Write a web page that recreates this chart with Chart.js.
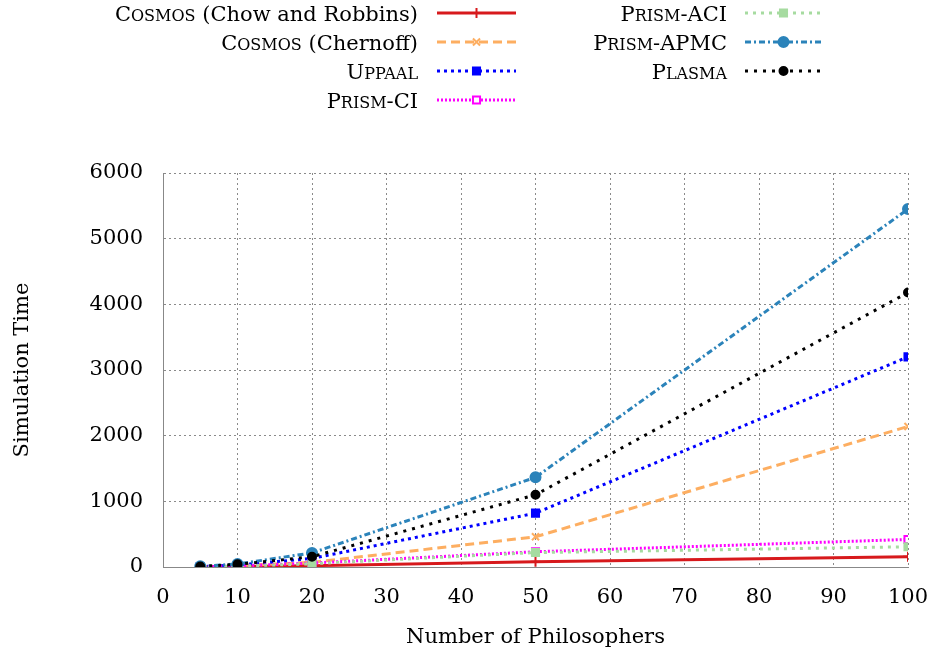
<!DOCTYPE html>
<html>
<head>
<meta charset="utf-8">
<script src="https://cdn.jsdelivr.net/npm/chart.js@4/dist/chart.umd.min.js"></script>
<style>
  html, body { margin: 0; padding: 0; background: #fff; }
  #wrap { width: 939px; height: 658px; position: relative; }
</style>
</head>
<body>
<div id="wrap"><canvas id="simChart"></canvas></div>
<script>
// Nombre de philosophes (axe x)
const philosophes = [5, 10, 20, 50, 100];

// Temps de simulation par outil
const chowRobbins = [2, 8, 20, 80, 155];
const chernoff = [5, 20, 70, 460, 2140];
const uppaal = [5, 30, 130, 820, 3200];
const prismCI = [3, 15, 60, 232, 420];
const prismACI = [3, 12, 50, 220, 308];
const prismAPMC = [10, 45, 215, 1365, 5450];
const plasma = [8, 40, 156, 1100, 4180];

// noms : partie en petites capitales + reste
const nomsSC = ['Cosmos', 'Cosmos', 'Uppaal', 'Prism', 'Prism', 'Prism', 'Plasma'];
const nomsReste = [' (Chow and Robbins)', ' (Chernoff)', '', '-CI', '-ACI', '-APMC', ''];

const yTicks = [0, 1000, 2000, 3000, 4000, 5000, 6000];
const xTicks = [0, 10, 20, 30, 40, 50, 60, 70, 80, 90, 100];

const serif = '"DejaVu Serif", "Liberation Serif", serif';
const taille = 21;

function serie(valeurs, cor, dash, estilo, raio, fundo) {
  return {
    data: philosophes.map((x, i) => ({ x: x, y: valeurs[i] })),
    borderColor: cor,
    backgroundColor: fundo || cor,
    borderWidth: 3,
    borderDash: dash,
    pointStyle: estilo,
    pointRadius: raio,
    pointBorderColor: cor,
    pointBackgroundColor: fundo || cor,
    pointBorderWidth: 2,
    tension: 0
  };
}

const datasets = [
  serie(chowRobbins, '#d7191c', [], 'cross', 5),
  serie(chernoff, '#fdae61', [9, 5], 'crossRot', 5),
  serie(uppaal, '#0000ff', [3, 4], 'rect', 5),
  serie(prismCI, '#ff00ff', [2, 2], 'rect', 5, '#ffffff'),
  serie(prismACI, '#a6dba0', [3, 5], 'rect', 5),
  serie(prismAPMC, '#2b83ba', [6, 3, 2, 3], 'circle', 5),
  serie(plasma, '#000000', [3, 6], 'circle', 4)
];
// comme gnuplot : les dernieres series par-dessus
datasets.forEach((d, i) => { d.label = nomsSC[i] + nomsReste[i]; d.order = datasets.length - i; });

// petites capitales faites main : initiale pleine, reste en majuscules reduites
function morceaux(i) {
  const sc = nomsSC[i];
  return [
    { t: sc[0], f: taille + 'px ' + serif },
    { t: sc.slice(1).toUpperCase(), f: Math.round(taille * 0.78) + 'px ' + serif },
    { t: nomsReste[i], f: taille + 'px ' + serif }
  ];
}

// legende en deux colonnes, dessinee a la main
const legendePlugin = {
  id: 'legendePlugin',
  afterDraw(chart) {
    const ctx = chart.ctx;
    const cols = [{ tx: 418, x0: 437, x1: 516 }, { tx: 727, x0: 745, x1: 822 }];
    const rows = [13, 42, 71, 100];
    chart.data.datasets.forEach((d, i) => {
      const col = i < 4 ? cols[0] : cols[1];
      const y = rows[i < 4 ? i : i - 4];
      ctx.save();
      ctx.fillStyle = '#000';
      ctx.textBaseline = 'alphabetic';
      ctx.textAlign = 'left';
      const parts = morceaux(i);
      let total = 0;
      parts.forEach(p => { ctx.font = p.f; p.w = ctx.measureText(p.t).width; total += p.w; });
      let x = col.tx - total;
      parts.forEach(p => { ctx.font = p.f; ctx.fillText(p.t, x, y + 8); x += p.w; });
      // trait
      ctx.strokeStyle = d.borderColor;
      ctx.lineWidth = d.borderWidth;
      ctx.setLineDash(d.borderDash);
      ctx.beginPath();
      ctx.moveTo(col.x0, y);
      ctx.lineTo(col.x1, y);
      ctx.stroke();
      ctx.setLineDash([]);
      ctx.fillStyle = d.pointBackgroundColor;
      ctx.strokeStyle = d.pointBorderColor;
      ctx.lineWidth = d.pointBorderWidth;
      Chart.helpers.drawPoint(ctx, {
        pointStyle: d.pointStyle, radius: d.pointRadius, borderWidth: d.pointBorderWidth,
        rotation: 0
      }, (col.x0 + col.x1) / 2, y);
      ctx.restore();
    });
  }
};

const ctxSim = document.getElementById('simChart').getContext('2d');
new Chart(ctxSim, {
  type: 'line',
  data: { datasets: datasets },
  plugins: [legendePlugin],
  options: {
    responsive: true,
    maintainAspectRatio: false,
    animation: false,
    layout: { padding: { top: 173, right: 31, left: 10, bottom: 2 } },
    plugins: { legend: { display: false }, tooltip: { enabled: false } },
    scales: {
      x: {
        type: 'linear', min: 0, max: 100,
        afterBuildTicks: ax => { ax.ticks = xTicks.map(v => ({ value: v })); },
        afterFit: ax => { ax.height = 89; ax.paddingRight = 0; ax.paddingLeft = 0; },
        grid: { color: '#8a8a8a', lineWidth: 1, drawTicks: false },
        border: { display: true, color: '#888', dash: [2, 3] },
        ticks: { color: '#000', font: { family: serif, size: taille }, padding: 18, callback: v => String(v) },
        title: { display: true, text: 'Number of Philosophers', color: '#000', font: { family: serif, size: taille }, padding: { top: 0, bottom: 6 } }
      },
      y: {
        min: 0, max: 6000,
        afterBuildTicks: ax => { ax.ticks = yTicks.map(v => ({ value: v })); },
        afterFit: ax => { ax.width = 153; },
        grid: { color: '#8a8a8a', lineWidth: 1, drawTicks: false },
        border: { display: true, color: '#888', dash: [2, 3] },
        ticks: { color: '#000', font: { family: serif, size: taille }, padding: 20, callback: v => String(v) },
        title: { display: true, text: 'Simulation Time', color: '#000', font: { family: serif, size: taille }, padding: { top: 0, bottom: 0 } }
      }
    }
  }
});
</script>
</body>
</html>
